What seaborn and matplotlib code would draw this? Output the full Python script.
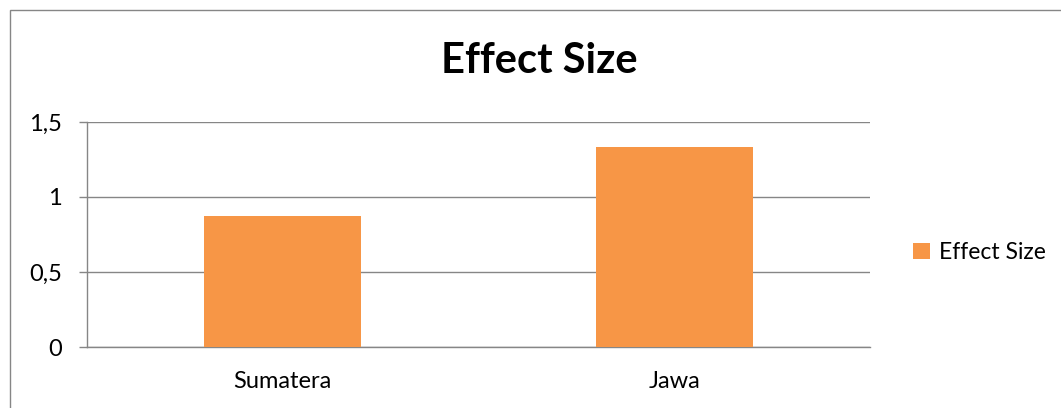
import matplotlib
matplotlib.use('Agg')
import matplotlib.pyplot as plt
from matplotlib.patches import Rectangle
import seaborn as sns
import pandas as pd

categories = ['Sumatera', 'Jawa']
effect_size = [0.87, 1.33]
series_name = 'Effect Size'
y_ticks = [0, 0.5, 1, 1.5]
y_tick_labels = ['0', '0,5', '1', '1,5']

sns.set_style('white')
plt.rcParams['font.family'] = ['Lato', 'DejaVu Sans']
plt.rcParams['text.color'] = 'black'
plt.rcParams['xtick.color'] = 'black'
plt.rcParams['ytick.color'] = 'black'

df = pd.DataFrame({'region': categories, 'value': effect_size, 'series': series_name})

fig = plt.figure(figsize=(10.61, 4.08), dpi=100)
ax = fig.add_axes([0.082, 0.1495, 0.738, 0.5515])

grid_col = '#868686'
sns.barplot(data=df, x='region', y='value', hue='series', palette=['#F79646'],
            width=0.4, dodge=False, saturation=1, ax=ax, zorder=3, linewidth=0)

ax.set_ylim(0, 1.5)
ax.set_xlim(-0.5, 1.5)
ax.set_yticks(y_ticks)
ax.set_yticklabels(y_tick_labels, fontsize=17)
ax.yaxis.grid(True, color=grid_col, linewidth=1.0, zorder=0)
ax.set_axisbelow(True)
ax.set_xlabel('')
ax.set_ylabel('')

# category labels without marks, marks at category boundaries
ax.tick_params(axis='x', which='major', length=0, pad=17, labelsize=17)
ax.set_xticks([-0.5, 0.5, 1.5], minor=True)
ax.tick_params(axis='x', which='minor', length=6, color=grid_col, width=1.0, direction='out')
ax.tick_params(axis='y', length=6, color=grid_col, width=1.0, direction='out', pad=12, left=True)

for s in ['top', 'right']:
    ax.spines[s].set_visible(False)
for s in ['left', 'bottom']:
    ax.spines[s].set_color(grid_col)
    ax.spines[s].set_linewidth(1.0)

fig.text(0.508, 0.85, 'Effect Size', ha='center', va='center', fontsize=30, fontweight='bold')

leg = ax.legend(loc='center left', bbox_to_anchor=(1.055, 0.42), frameon=False, fontsize=16.5,
                handlelength=0.75, handleheight=0.75, handletextpad=0.4, borderpad=0,
                borderaxespad=0)

fig.patches.append(Rectangle((10 / 1061, -0.1), 1.2, (398 / 408) + 0.1, transform=fig.transFigure,
                             fill=False, edgecolor=grid_col, linewidth=1.0))

fig.savefig('out.png', dpi=100)
